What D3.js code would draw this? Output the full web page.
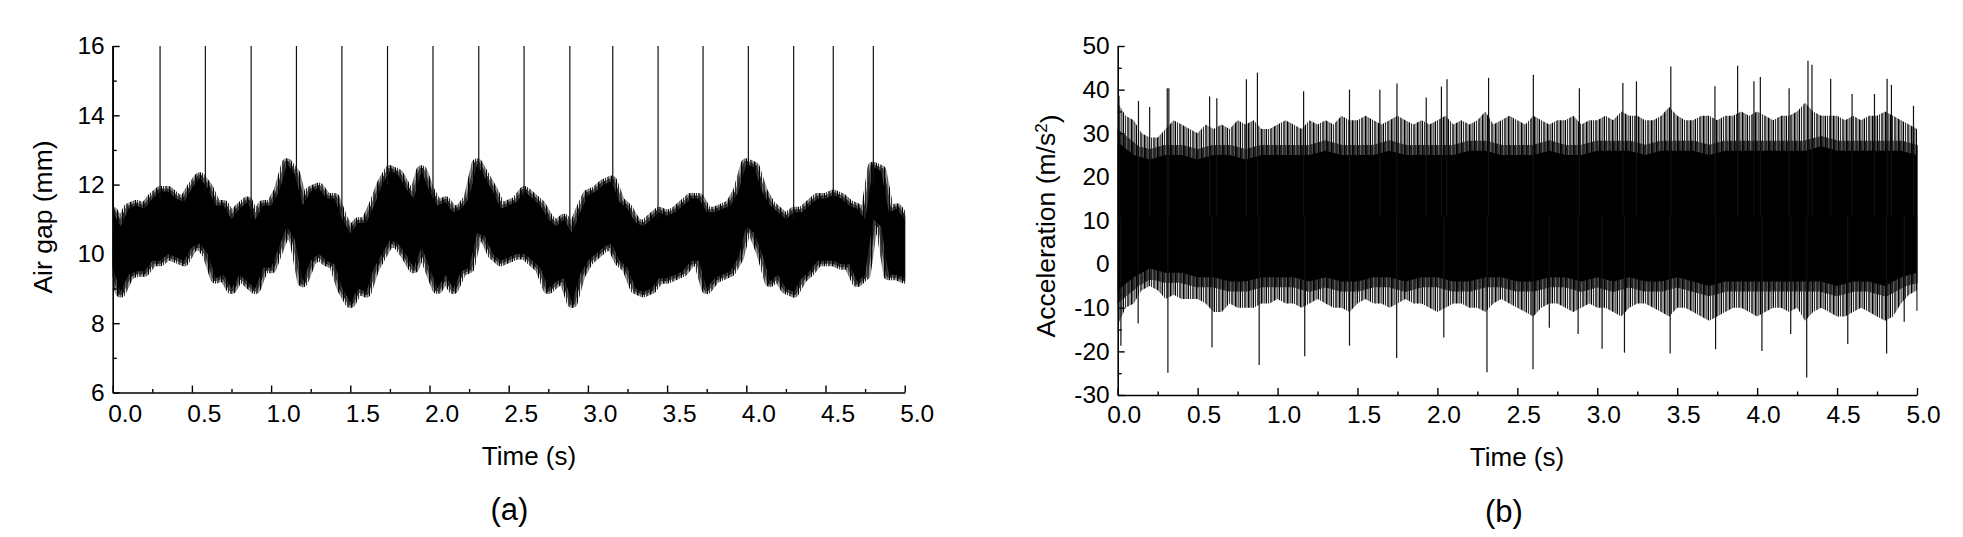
<!DOCTYPE html>
<html>
<head>
<meta charset="utf-8">
<script src="https://cdn.jsdelivr.net/npm/d3@7"></script>
<style>
  html, body { margin: 0; padding: 0; background: #fff; }
  svg { display: block; }
  text { font-family: "Liberation Sans", Arial, sans-serif; fill: #000; }
</style>
</head>
<body>
<svg id="chart" width="1963" height="537"></svg>
<script>
// ---------------- DATA ----------------
// Panel (a): air gap, envelope of the noisy signal sampled every 0.05 s (t = 0 … 5 s)
const gapStep = 0.05;
const gapHi = [11.2,10.8,11.3,11.4,11.3,11.6,11.8,11.8,11.6,11.5,
               11.9,12.2,11.9,11.4,11.4,11.0,11.3,11.5,11.0,11.4,
               11.4,11.8,12.6,12.3,11.4,11.8,11.9,11.6,11.6,11.0,
               10.6,10.9,10.9,11.4,12.0,12.4,12.3,11.9,11.6,12.4,
               11.8,11.4,11.5,11.2,11.3,11.6,12.6,12.2,11.8,11.3,
               11.4,11.5,11.8,11.6,11.4,11.0,10.8,11.0,10.6,11.2,
               11.7,11.8,12.0,12.1,11.5,11.3,10.9,10.8,11.0,11.2,
               11.1,11.2,11.4,11.6,11.6,11.2,11.2,11.3,11.4,11.8,
               12.6,12.5,11.8,11.4,11.2,11.0,11.2,11.2,11.4,11.6,
               11.6,11.7,11.6,11.4,11.3,11.0,12.5,12.4,11.2,11.3,11.0];
const gapLo = [9.6,8.9,9.4,9.5,9.5,9.8,9.8,10.0,9.9,9.8,
               10.2,10.3,10.0,9.3,9.4,9.0,9.4,9.2,9.0,9.6,
               9.6,10.2,10.8,10.4,9.2,9.8,10.0,9.8,9.7,9.0,
               8.6,9.0,8.9,9.6,10.0,10.4,10.3,10.0,9.6,10.2,
               9.6,9.0,9.4,9.0,9.5,9.6,10.6,10.5,10.0,9.8,
               9.9,10.0,10.0,9.8,9.6,9.0,9.2,9.3,8.6,9.4,
               9.8,10.0,10.2,10.3,9.8,9.6,9.0,8.9,9.0,9.3,
               9.3,9.4,9.5,9.8,9.8,9.0,9.3,9.4,9.5,9.9,
               10.8,10.6,10.0,9.2,9.4,9.0,8.9,9.3,9.5,9.8,
               9.8,9.8,9.7,9.7,9.2,9.4,11.0,10.8,9.4,9.4,9.3];
// times (s) of the sharp spikes that reach the top of the axis
const gapSpikeTimes = [0.0,0.299,0.585,0.874,1.160,1.447,1.735,2.022,2.311,2.597,
                       2.886,3.157,3.443,3.727,4.013,4.299,4.549,4.802];
const gapSpikeTop = 16;
const gapSpikeBase = [9.6,11.6,11.8,11.0,12.3,11.2,12.0,11.6,12.4,11.6,10.8,12.0,11.0,11.6,12.5,11.0,11.6,12.0];

// Panel (b): acceleration
const accStep = 0.05;   // outer (hairy) envelope, every 0.05 s
const accHi = [37,34,33,30,29,29,31,33,32,31,
               30,32,31,32,31,33,32,33,31,31,
               32,33,32,31,33,32,33,32,34,33,
               33,34,33,32,33,34,33,32,33,32,
               33,34,32,33,32,33,35,32,33,34,
               33,32,34,33,32,33,33,34,32,33,
               33,34,33,35,34,34,33,33,34,36,
               34,33,33,34,34,33,34,34,35,34,
               35,34,33,34,34,35,37,35,34,34,
               34,33,34,33,34,34,35,34,33,32,31];
const accLo = [-14,-10,-9,-6,-5,-6,-8,-7,-8,-8,
               -8,-9,-11,-11,-9,-10,-10,-10,-9,-9,
               -8,-9,-9,-10,-9,-8,-9,-10,-10,-11,
               -9,-8,-9,-9,-10,-9,-8,-9,-9,-10,
               -11,-10,-9,-9,-10,-10,-11,-9,-8,-9,
               -10,-11,-12,-10,-9,-9,-10,-11,-10,-9,
               -10,-10,-11,-12,-10,-9,-9,-10,-11,-12,
               -10,-10,-11,-12,-13,-12,-11,-10,-10,-11,
               -12,-11,-10,-10,-11,-10,-13,-11,-10,-11,
               -12,-12,-11,-10,-11,-12,-13,-12,-9,-7,-6];
const accCoreStep = 0.1; // solid black core, every 0.1 s
const accCoreHi = [28,25,24,25,25,24,25,25,24,25,25,25,25,26,25,25,25,26,25,25,
                   25,25,26,26,25,25,25,26,25,25,26,26,26,25,26,26,26,25,26,26,
                   26,26,26,26,27,26,26,26,26,26,25];
const accCoreLo = [-6,-3,-1,-2,-2,-3,-3,-4,-4,-3,-3,-3,-4,-3,-4,-4,-3,-3,-4,-3,
                   -3,-4,-4,-3,-3,-4,-4,-3,-3,-4,-3,-4,-3,-4,-4,-3,-4,-5,-4,-4,
                   -4,-4,-4,-4,-4,-5,-4,-4,-5,-3,-2];
const accMean = 11;
// isolated tall needles [time s, value m/s²]
const accNeedleT = [0.008,0.13,0.2,0.31,0.32,0.575,0.62,0.805,0.874,1.163,1.45,1.64,1.747,1.93,2.025,2.06,2.32,2.60,
                    2.888,3.16,3.245,3.46,3.736,3.878,3.98,4.02,4.20,4.318,4.343,4.46,4.594,4.734,4.813,4.84,4.978,
                    0.02,0.128,0.314,0.59,0.885,1.17,1.45,1.745,2.04,2.31,2.598,2.70,2.88,3.03,3.17,3.456,3.74,
                    4.03,4.21,4.31,4.567,4.81,4.92,5.0];
const accNeedleV = [38.6,37.4,36,40.3,40.3,38.4,38,42.4,43.9,39.6,40.0,40.0,41.4,38.2,40.7,42.4,42.7,43.4,
                    40.3,41.5,41.9,45.3,40.8,45.5,41.9,42.9,40.3,46.6,45.7,42.5,39.0,39.0,42.5,41.1,36.3,
                    -18.7,-13.6,-24.9,-19.1,-23.1,-21.1,-18.7,-21.5,-16.8,-24.8,-24.1,-14.6,-16,-19.4,-20.3,-20.5,-19.5,
                    -19.9,-16,-26,-18.3,-20.5,-13.2,-10.7];

// axis ticks
const timeTicks = [0,0.5,1,1.5,2,2.5,3,3.5,4,4.5,5];
const timeMinor = [0.25,0.75,1.25,1.75,2.25,2.75,3.25,3.75,4.25,4.75];
const gapTicks = [6,8,10,12,14,16];
const gapMinor = [7,9,11,13,15];
const accTicks = [-30,-20,-10,0,10,20,30,40,50];
const accMinor = [-25,-15,-5,5,15,25,35,45];

// ---------------- DRAWING ----------------
const svg = d3.select("#chart");
const FONT_TICK = "24.5px";

// irregular fine vertical hatching = look of a densely sampled signal
const defs = svg.append("defs");
function hatch(id, shift) {
  const p = defs.append("pattern").attr("id", id).attr("patternUnits", "userSpaceOnUse")
    .attr("width", 13).attr("height", 10).attr("patternTransform", `translate(${shift},0)`);
  [[0, 1.6], [2.6, 1.0], [4.6, 1.5], [7.2, 0.9], [9.3, 1.4], [11.6, 0.8]].forEach(([x0, w]) =>
    p.append("rect").attr("x", x0).attr("y", 0).attr("width", w).attr("height", 10).attr("fill", "#000"));
}
hatch("hairA", 0);
hatch("hairB", 1.3);

function drawAxes(g, x, y, yTicks, yMinor, opts) {
  const axisY = y.range()[0];
  const xa = g.append("g").attr("transform", `translate(0,${axisY})`)
    .call(d3.axisBottom(x).tickValues(timeTicks).tickSizeInner(-7).tickSizeOuter(0)
      .tickPadding(opts.xPad).tickFormat(d3.format(".1f")));
  xa.selectAll("text").attr("x", opts.xShift).style("font-size", FONT_TICK);
  g.append("g").attr("transform", `translate(0,${axisY})`)
    .call(d3.axisBottom(x).tickValues(timeMinor).tickSizeInner(-3.5).tickSizeOuter(0).tickFormat(""))
    .select(".domain").remove();
  const x0 = x.range()[0];
  const ya = g.append("g").attr("transform", `translate(${x0},0)`)
    .call(d3.axisLeft(y).tickValues(yTicks).tickSizeInner(-7).tickSizeOuter(0)
      .tickPadding(8).tickFormat(d => String(d)));
  ya.selectAll("text").style("font-size", FONT_TICK);
  g.append("g").attr("transform", `translate(${x0},0)`)
    .call(d3.axisLeft(y).tickValues(yMinor).tickSizeInner(-4).tickSizeOuter(0).tickFormat(""))
    .select(".domain").remove();
  g.selectAll(".domain").attr("stroke", "#000").attr("stroke-width", 1.6);
  g.selectAll(".tick line").attr("stroke", "#000").attr("stroke-width", 1.4);
  g.selectAll("text").attr("fill", "#000").style("font-family", '"Liberation Sans", Arial, sans-serif');
}

// ----- Panel (a) -----
{
  const x = d3.scaleLinear().domain([0, 5]).range([112.7, 904.7]);
  const y = d3.scaleLinear().domain([6, 16]).range([392.5, 46]);
  const g = svg.append("g");
  const pts = gapHi.map((h, i) => ({ t: i * gapStep, hi: h, lo: gapLo[i] }));
  const area = d3.area().x(d => x(d.t)).y0(d => y(d.lo)).y1(d => y(d.hi));
  // hairy fringe (two offset hatchings: denser near the body)
  g.append("path").datum(pts).attr("d", area)
    .attr("fill", "none").attr("stroke", "url(#hairA)").attr("stroke-width", 11)
    .attr("stroke-linejoin", "round");
  g.append("path").datum(pts).attr("d", area)
    .attr("fill", "none").attr("stroke", "url(#hairB)").attr("stroke-width", 6)
    .attr("stroke-linejoin", "round");
  // solid body
  g.append("path").datum(pts).attr("d", area).attr("fill", "#000");
  g.selectAll("line.spike").data(gapSpikeTimes).join("line").attr("class", "spike")
    .attr("x1", d => x(d)).attr("x2", d => x(d))
    .attr("y1", (d, i) => y(gapSpikeBase[i])).attr("y2", y(gapSpikeTop))
    .attr("stroke", "#111").attr("stroke-width", (d, i) => i === 0 ? 2.5 : 1.2);
  // keep the fringe inside the time range
  g.append("rect").attr("x", 0).attr("y", 40).attr("width", x(0) - 0.5).attr("height", 360).attr("fill", "#fff");
  g.append("rect").attr("x", x(5) + 0.8).attr("y", 40).attr("width", 60).attr("height", 350).attr("fill", "#fff");
  drawAxes(g, x, y, gapTicks, gapMinor, { xPad: 11.8, xShift: 12 });
  g.append("text").attr("transform", "translate(52,217) rotate(-90)")
    .attr("text-anchor", "middle").style("font-size", "26.5px").text("Air gap (mm)");
  g.append("text").attr("x", 529).attr("y", 465).attr("text-anchor", "middle")
    .style("font-size", "26px").text("Time (s)");
  g.append("text").attr("x", 509.5).attr("y", 520).attr("text-anchor", "middle")
    .style("font-size", "31px").text("(a)");
}

// ----- Panel (b) -----
{
  const x = d3.scaleLinear().domain([0, 5]).range([1117.7, 1917]);
  const y = d3.scaleLinear().domain([-30, 50]).range([395, 46]);
  const g = svg.append("g");
  const outer = accHi.map((h, i) => ({ t: i * accStep, hi: h, lo: accLo[i] }));
  g.append("path").datum(outer)
    .attr("d", d3.area().x(d => x(d.t)).y0(d => y(d.lo)).y1(d => y(d.hi)))
    .attr("fill", "url(#hairA)");
  const core = accCoreHi.map((h, i) => ({ t: i * accCoreStep, hi: h, lo: accCoreLo[i] }));
  const coreArea = d3.area().x(d => x(d.t)).y0(d => y(d.lo)).y1(d => y(d.hi));
  g.append("path").datum(core).attr("d", coreArea)
    .attr("fill", "none").attr("stroke", "url(#hairB)").attr("stroke-width", 20);
  g.append("path").datum(core).attr("d", coreArea).attr("fill", "#000");
  g.selectAll("line.needle").data(accNeedleT).join("line").attr("class", "needle")
    .attr("x1", d => x(d)).attr("x2", d => x(d))
    .attr("y1", y(accMean)).attr("y2", (d, i) => y(accNeedleV[i]))
    .attr("stroke", "#111").attr("stroke-width", 1.2);
  g.append("rect").attr("x", 1000).attr("y", 40).attr("width", x(0) - 1000 - 0.5).attr("height", 360).attr("fill", "#fff");
  g.append("rect").attr("x", x(5) + 0.8).attr("y", 40).attr("width", 45).attr("height", 353).attr("fill", "#fff");
  drawAxes(g, x, y, accTicks, accMinor, { xPad: 10.9, xShift: 6 });
  const t = g.append("text").attr("transform", "translate(1054.5,226) rotate(-90)")
    .attr("text-anchor", "middle").style("font-size", "26.5px");
  t.append("tspan").text("Acceleration (m/s");
  t.append("tspan").attr("dy", "-0.45em").style("font-size", "17px").text("2");
  t.append("tspan").attr("dy", "0.45em").text(")");
  g.append("text").attr("x", 1517).attr("y", 466).attr("text-anchor", "middle")
    .style("font-size", "26px").text("Time (s)");
  g.append("text").attr("x", 1504).attr("y", 522).attr("text-anchor", "middle")
    .style("font-size", "31px").text("(b)");
}
</script>
</body>
</html>
